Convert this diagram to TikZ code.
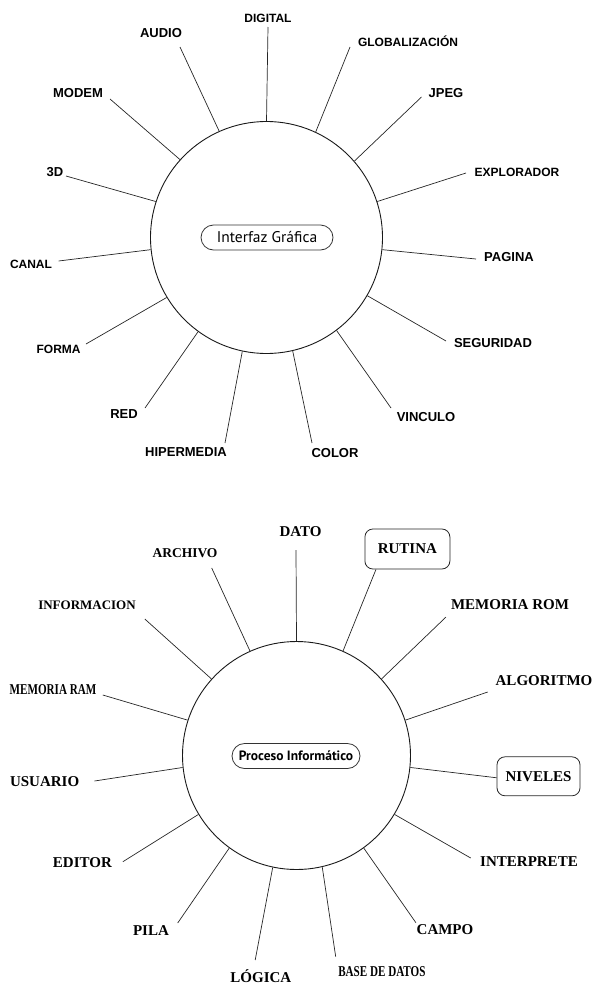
\documentclass[tikz,border=0pt]{standalone}
\usepackage{fontspec}
\usepackage{graphicx}
\setmainfont{Liberation Serif}
\setsansfont{Liberation Sans}
\newfontfamily\hubfont{PT Sans}

\begin{document}
\begin{tikzpicture}[x=1pt, y=-1pt,
  hub/.style={circle, draw=black!90, line width=0.9pt, inner sep=0pt},
  hubtag/.style={draw=black!80, line width=0.8pt, rounded corners=12.5pt, minimum height=25pt, inner sep=0pt},
  spoke/.style={draw=black!85, line width=0.7pt},
  gtext/.style={inner sep=0pt, text height=9.3pt, text depth=0pt, font=\sffamily\bfseries\fontsize{13}{13}\selectfont},
  gsmall/.style={text height=8.6pt, font=\sffamily\bfseries\fontsize{12}{12}\selectfont},
  ptext/.style={inner sep=0pt, text height=9.9pt, text depth=0pt, font=\rmfamily\bfseries\fontsize{15}{15}\selectfont},
  pbox/.style={draw=black!85, line width=0.8pt, rounded corners=8pt, minimum height=40pt}]
  \useasboundingbox (0,0) rectangle (593,985);

  % Interfaz Grafica
  \node[hub, minimum size=232pt] (gui) at (266.5,237.5) {};
  \node[hubtag, minimum width=132pt, font=\hubfont\fontsize{15.5}{15.5}\selectfont] (guitag) at (267,237.5) {Interfaz Gráfica};

  \node[gtext, gsmall] (digital) at (268,18) {DIGITAL};
  \node[gtext] (audio) at (161,33) {AUDIO};
  \node[gtext, gsmall] (globalizacion) at (408,42) {GLOBALIZACIÓN};
  \node[gtext] (modem) at (78,93) {MODEM};
  \node[gtext] (jpeg) at (446,93) {JPEG};
  \node[gtext] (tresd) at (55,172) {3D};
  \node[gtext, gsmall] (explorador) at (517,172) {EXPLORADOR};
  \node[gtext, gsmall] (canal) at (31,264) {CANAL};
  \node[gtext] (pagina) at (509,257) {PAGINA};
  \node[gtext, gsmall] (forma) at (58.6,349) {FORMA};
  \node[gtext] (seguridad) at (493,343) {SEGURIDAD};
  \node[gtext] (red) at (124,414) {RED};
  \node[gtext] (vinculo) at (426,417) {VINCULO};
  \node[gtext] (hipermedia) at (186,452) {HIPERMEDIA};
  \node[gtext] (color) at (335,453) {COLOR};

  \coordinate (digital-end) at (268,27);
  \coordinate (audio-end) at (180,47);
  \coordinate (globalizacion-end) at (350,47);
  \coordinate (modem-end) at (110,99);
  \coordinate (jpeg-end) at (421.5,97);
  \coordinate (tresd-end) at (66,176);
  \coordinate (explorador-end) at (466,173);
  \coordinate (canal-end) at (58.6,261);
  \coordinate (pagina-end) at (476,259);
  \coordinate (forma-end) at (86,344);
  \coordinate (seguridad-end) at (446,341);
  \coordinate (red-end) at (145,408);
  \coordinate (vinculo-end) at (391,408);
  \coordinate (hipermedia-end) at (225,443);
  \coordinate (color-end) at (312,443);

  \draw[spoke] (gui.90) -- (digital-end);
  \draw[spoke] (gui.114.7) -- (audio-end);
  \draw[spoke] (gui.65.7) -- (globalizacion-end);
  \draw[spoke] (gui.138.5) -- (modem-end);
  \draw[spoke] (gui.41.7) -- (jpeg-end);
  \draw[spoke] (gui.162.2) -- (tresd-end);
  \draw[spoke] (gui.18.1) -- (explorador-end);
  \draw[spoke] (gui.186.7) -- (canal-end);
  \draw[spoke] (gui.-6.2) -- (pagina-end);
  \draw[spoke] (gui.211.3) -- (forma-end);
  \draw[spoke] (gui.-30.4) -- (seguridad-end);
  \draw[spoke] (gui.234.7) -- (red-end);
  \draw[spoke] (gui.-53.5) -- (vinculo-end);
  \draw[spoke] (gui.258.4) -- (hipermedia-end);
  \draw[spoke] (gui.-77.4) -- (color-end);

  % Proceso Informatico
  \node[hub, minimum size=228pt] (proc) at (296.5,755.5) {};
  \node[hubtag, minimum width=128pt, font=\hubfont\bfseries\fontsize{13.5}{13.5}\selectfont] (proctag) at (296,756) {Proceso Informático};

  \node[ptext] (dato) at (300.6,531.7) {DATO};
  \node[ptext, font=\rmfamily\bfseries\fontsize{13.5}{13.5}\selectfont] (archivo) at (185,553) {ARCHIVO};
  \node[ptext, pbox, minimum width=85pt] (rutina) at (407.4,549) {RUTINA};
  \node[ptext, font=\rmfamily\bfseries\fontsize{13}{13}\selectfont] (informacion) at (87,605) {INFORMACION};
  \node[ptext] (memrom) at (510,605) {MEMORIA ROM};
  \node[ptext] (memram) at (53,690) {\scalebox{0.74}[1]{MEMORIA RAM}};
  \node[ptext] (algoritmo) at (544,680.7) {ALGORITMO};
  \node[ptext] (usuario) at (44.6,781.7) {USUARIO};
  \node[ptext, pbox, minimum width=83pt, minimum height=39pt] (niveles) at (538.5,776.3) {NIVELES};
  \node[ptext] (editor) at (82.4,862.7) {EDITOR};
  \node[ptext] (interprete) at (529,862) {INTERPRETE};
  \node[ptext] (pila) at (151,930.7) {PILA};
  \node[ptext] (campo) at (445,930) {CAMPO};
  \node[ptext] (logica) at (260.9,978) {LÓGICA};
  \node[ptext] (basedatos) at (381.9,971.7) {\scalebox{0.74}[1]{BASE DE DATOS}};

  \coordinate (dato-end) at (296,550);
  \coordinate (archivo-end) at (211.7,568);
  \coordinate (informacion-end) at (144.8,619);
  \coordinate (memrom-end) at (446,617);
  \coordinate (memram-end) at (102.8,695);
  \coordinate (algoritmo-end) at (487.7,692);
  \coordinate (usuario-end) at (94.5,781);
  \coordinate (editor-end) at (122.9,861.7);
  \coordinate (interprete-end) at (470.7,858);
  \coordinate (pila-end) at (177.7,923);
  \coordinate (campo-end) at (415.9,922.7);
  \coordinate (logica-end) at (255.2,960);
  \coordinate (basedatos-end) at (335.7,956.7);

  \draw[spoke] (proc.90) -- (dato-end);
  \draw[spoke] (proc.114.7) -- (archivo-end);
  \draw[spoke] (proc.66.3) -- (rutina.213);
  \draw[spoke] (proc.138.3) -- (informacion-end);
  \draw[spoke] (proc.42.5) -- (memrom-end);
  \draw[spoke] (proc.162.1) -- (memram-end);
  \draw[spoke] (proc.18.5) -- (algoritmo-end);
  \draw[spoke] (proc.186.9) -- (usuario-end);
  \draw[spoke] (proc.-6.2) -- (niveles.182);
  \draw[spoke] (proc.211.4) -- (editor-end);
  \draw[spoke] (proc.-31) -- (interprete-end);
  \draw[spoke] (proc.234.8) -- (pila-end);
  \draw[spoke] (proc.-54.6) -- (campo-end);
  \draw[spoke] (proc.258.4) -- (logica-end);
  \draw[spoke] (proc.-77.7) -- (basedatos-end);
\end{tikzpicture}
\end{document}
